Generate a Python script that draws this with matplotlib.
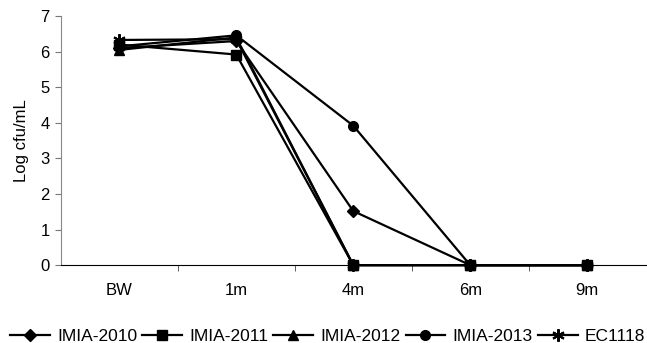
import matplotlib
matplotlib.use("Agg")
import matplotlib.pyplot as plt
import numpy as np

plt.rcParams['font.family'] = ['Liberation Sans', 'DejaVu Sans']

categories = ["BW", "1m", "4m", "6m", "9m"]
imia_2010 = [6.1, 6.3, 1.52, 0, 0]
imia_2011 = [6.2, 5.92, 0, 0, 0]
imia_2012 = [6.05, 6.4, 0, 0, 0]
imia_2013 = [6.15, 6.46, 3.92, 0, 0]
ec1118 = [6.33, 6.35, 0, 0, 0]

series = [
    ("IMIA-2010", imia_2010, "D", 6),
    ("IMIA-2011", imia_2011, "s", 7),
    ("IMIA-2012", imia_2012, "^", 7),
    ("IMIA-2013", imia_2013, "o", 7),
    ("EC1118", ec1118, (6, 2, 0), 9),
]

fig = plt.figure(figsize=(6.47, 3.43), dpi=100)
ax = fig.add_axes([0.094, 0.227, 0.904, 0.726])
x = np.arange(len(categories))
for name, vals, m, ms in series:
    mew = 1.5 if not isinstance(m, str) else 1
    ax.plot(x, vals, color="black", lw=1.6, marker=m, markersize=ms,
            markeredgewidth=mew, label=name, clip_on=False)

ax.set_xlim(-0.5, len(categories) - 0.5)
ax.set_ylim(0, 7)
ax.set_yticks(range(0, 8))
ax.set_xticks(x)
ax.set_xticklabels(categories, fontsize=12)
ax.set_xticks(np.arange(0.5, len(categories) - 0.5, 1), minor=True)
ax.tick_params(axis='x', which='major', length=0, pad=13)
ax.tick_params(axis='x', which='minor', length=4, direction='out', color='#444444')
ax.tick_params(axis='y', labelsize=12, length=4, color='#777777', pad=4)
ax.set_ylabel("Log cfu/mL", fontsize=12, labelpad=8)
for s in ["top", "right"]:
    ax.spines[s].set_visible(False)
ax.spines["left"].set_color("#888888")
ax.spines["bottom"].set_color("black")

leg = fig.legend(loc="center left", bbox_to_anchor=(0.0155, 0.02), ncol=5,
                 frameon=False, fontsize=12.5, handlelength=2.3,
                 handletextpad=0.4, columnspacing=0.3, borderpad=0,
                 borderaxespad=0)
fig.savefig("out.png", dpi=100)
